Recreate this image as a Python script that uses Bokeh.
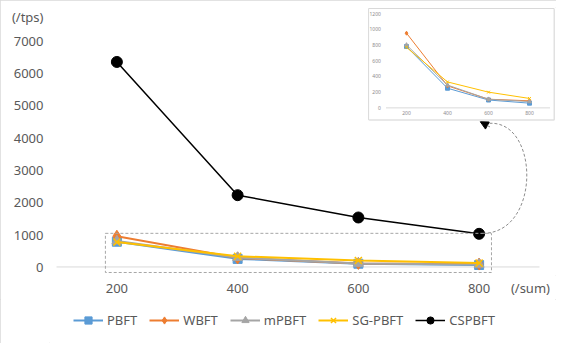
from bokeh.plotting import figure
from bokeh.layouts import column
from bokeh.models import Range1d, FixedTicker, Legend, LegendItem, Arrow, NormalHead
from bokeh.core.properties import value
from bokeh.embed import file_html
from bokeh.resources import INLINE

# ---- data ----
nodes = [200, 400, 600, 800]
pbft = [780, 250, 100, 60]
wbft = [950, 280, 110, 90]
mpbft = [800, 290, 110, 80]
sgpbft = [770, 330, 200, 120]
cspbft = [6340, 2220, 1530, 1025]
y_ticks = [0, 1000, 2000, 3000, 4000, 5000, 6000, 7000]
inset_y_ticks = [0, 200, 400, 600, 800, 1000, 1200]
y_unit = "(/tps)"
x_unit = "(/sum)"

FONT = "Noto Sans"
GRAY_TXT = "#595959"

# unit labels ride on the axes as extra ticks
Y_UNIT_POS = 7745
X_UNIT_POS = 885

p = figure(width=556, frame_height=268, output_backend="svg", toolbar_location=None,
           x_range=Range1d(88.4, 928.2), y_range=Range1d(-264, 8024),
           min_border_left=49, min_border_right=0, min_border_top=7, min_border_bottom=0)
p.extra_x_ranges = {"ix": Range1d(-1541.5, 931.7)}
p.extra_y_ranges = {"iy": Range1d(-2131.9, 1276.6)}
p.outline_line_color = None
p.xgrid.visible = False
p.ygrid.visible = False

for ax in (p.xaxis, p.yaxis):
    ax.axis_line_color = None
    ax.major_tick_line_color = None
    ax.minor_tick_line_color = None
    ax.major_tick_out = 0
    ax.major_label_text_font = FONT
    ax.major_label_text_font_size = "13px"
    ax.major_label_text_color = GRAY_TXT
p.xaxis.ticker = FixedTicker(ticks=nodes + [X_UNIT_POS])
p.yaxis.ticker = FixedTicker(ticks=y_ticks + [Y_UNIT_POS])
p.xaxis.major_label_overrides = {X_UNIT_POS: x_unit}
p.yaxis.major_label_overrides = {Y_UNIT_POS: y_unit}
p.xaxis.major_label_standoff = 3
p.yaxis.major_label_standoff = 6

# zero axis line
p.segment(x0=100, y0=0, x1=900, y1=0, line_color="#d9d9d9", line_width=1)

series = [
    ("PBFT", pbft, "#5B9BD5", "square", 9),
    ("WBFT", wbft, "#ED7D31", "diamond", 12),
    ("mPBFT", mpbft, "#A5A5A5", "triangle", 10),
    ("SG-PBFT", sgpbft, "#FFC000", "x", 10),
]
for name, vals, col, mk, sz in series:
    p.line(nodes, vals, line_color=col, line_width=2)
    if mk == "x":
        p.scatter(nodes, vals, marker=mk, size=sz, line_color=col, line_width=1.5)
    else:
        p.scatter(nodes, vals, marker=mk, size=sz, fill_color=col, line_color=col)
p.line(nodes, cspbft, line_color="black", line_width=1.5)
p.scatter(nodes, cspbft, marker="circle", size=11, fill_color="black", line_color="black")

# dashed zoom box
p.quad(left=181, right=820.5, top=1040, bottom=-171, fill_color=None,
       line_color="#a6a6a6", line_dash="3 2", line_width=1)

# curved dashed connector
p.bezier(x0=806, y0=1040, x1=811, y1=4430, cx0=905, cy0=1040, cx1=900, cy1=4700,
         line_color="#8c8c8c", line_dash="3 2", line_width=1)
p.add_layout(Arrow(end=NormalHead(size=8, fill_color="black", line_color="black"),
                   x_start=818, y_start=4330, x_end=802, y_end=4490,
                   line_color="#8c8c8c", line_dash="3 2", line_width=1))

# inset
p.quad(left=18, right=923, top=1250, bottom=-160, fill_color="#e6e6e6", line_color=None,
       x_range_name="ix", y_range_name="iy")
p.quad(left=15, right=920, top=1264, bottom=-153, fill_color="white", line_color="#d9d9d9",
       x_range_name="ix", y_range_name="iy")
p.segment(x0=100, y0=0, x1=900, y1=0, line_color="#d9d9d9", line_width=1,
          x_range_name="ix", y_range_name="iy")
p.text(x=[75] * len(inset_y_ticks), y=inset_y_ticks, text=[str(t) for t in inset_y_ticks],
       text_align="right", text_baseline="middle", text_font=value(FONT),
       text_font_size="5px", text_color="#8c8c8c", x_range_name="ix", y_range_name="iy")
p.text(x=nodes, y=[-68] * len(nodes), text=[str(t) for t in nodes],
       text_align="center", text_baseline="middle", text_font=value(FONT),
       text_font_size="5px", text_color="#8c8c8c", x_range_name="ix", y_range_name="iy")
for name, vals, col, mk, sz in series:
    p.line(nodes, vals, line_color=col, line_width=1, x_range_name="ix", y_range_name="iy")
    if mk == "x":
        p.scatter(nodes, vals, marker=mk, size=4, line_color=col, line_width=1,
                  x_range_name="ix", y_range_name="iy")
    else:
        p.scatter(nodes, vals, marker=mk, size=4, fill_color=col, line_color=col,
                  x_range_name="ix", y_range_name="iy")

# legend strip: its own small figure, same series, data kept out of its view
lg = figure(width=556, height=44, output_backend="svg", toolbar_location=None,
            x_range=Range1d(0, 1), y_range=Range1d(0, 1),
            x_axis_location=None, y_axis_location=None,
            min_border_left=0, min_border_right=0, min_border_top=0, min_border_bottom=0)
lg.outline_line_color = None
lg.xgrid.visible = False
lg.ygrid.visible = False
items = []
for name, vals, col, mk, sz in series:
    l = lg.line(nodes, vals, line_color=col, line_width=2)
    if mk == "x":
        s = lg.scatter(nodes, vals, marker=mk, size=sz, line_color=col, line_width=1.5)
    else:
        s = lg.scatter(nodes, vals, marker=mk, size=sz, fill_color=col, line_color=col)
    items.append(LegendItem(label=name, renderers=[l, s]))
l = lg.line(nodes, cspbft, line_color="black", line_width=1.5)
s = lg.scatter(nodes, cspbft, marker="circle", size=11, fill_color="black", line_color="black")
items.append(LegendItem(label="CSPBFT", renderers=[l, s]))
legend = Legend(items=items, orientation="horizontal", location=(24, 14),
                label_text_font=FONT, label_text_font_size="13px", label_text_color=GRAY_TXT,
                glyph_width=30, glyph_height=18, label_height=18, label_standoff=4, spacing=12,
                border_line_color=None, background_fill_alpha=0, margin=0, padding=0)
lg.add_layout(legend)

layout = column(p, lg, spacing=0)
layout.styles = {"outline": "1px solid #d9d9d9", "outline-offset": "-1px"}
open("out.html", "w").write(file_html(layout, INLINE))
